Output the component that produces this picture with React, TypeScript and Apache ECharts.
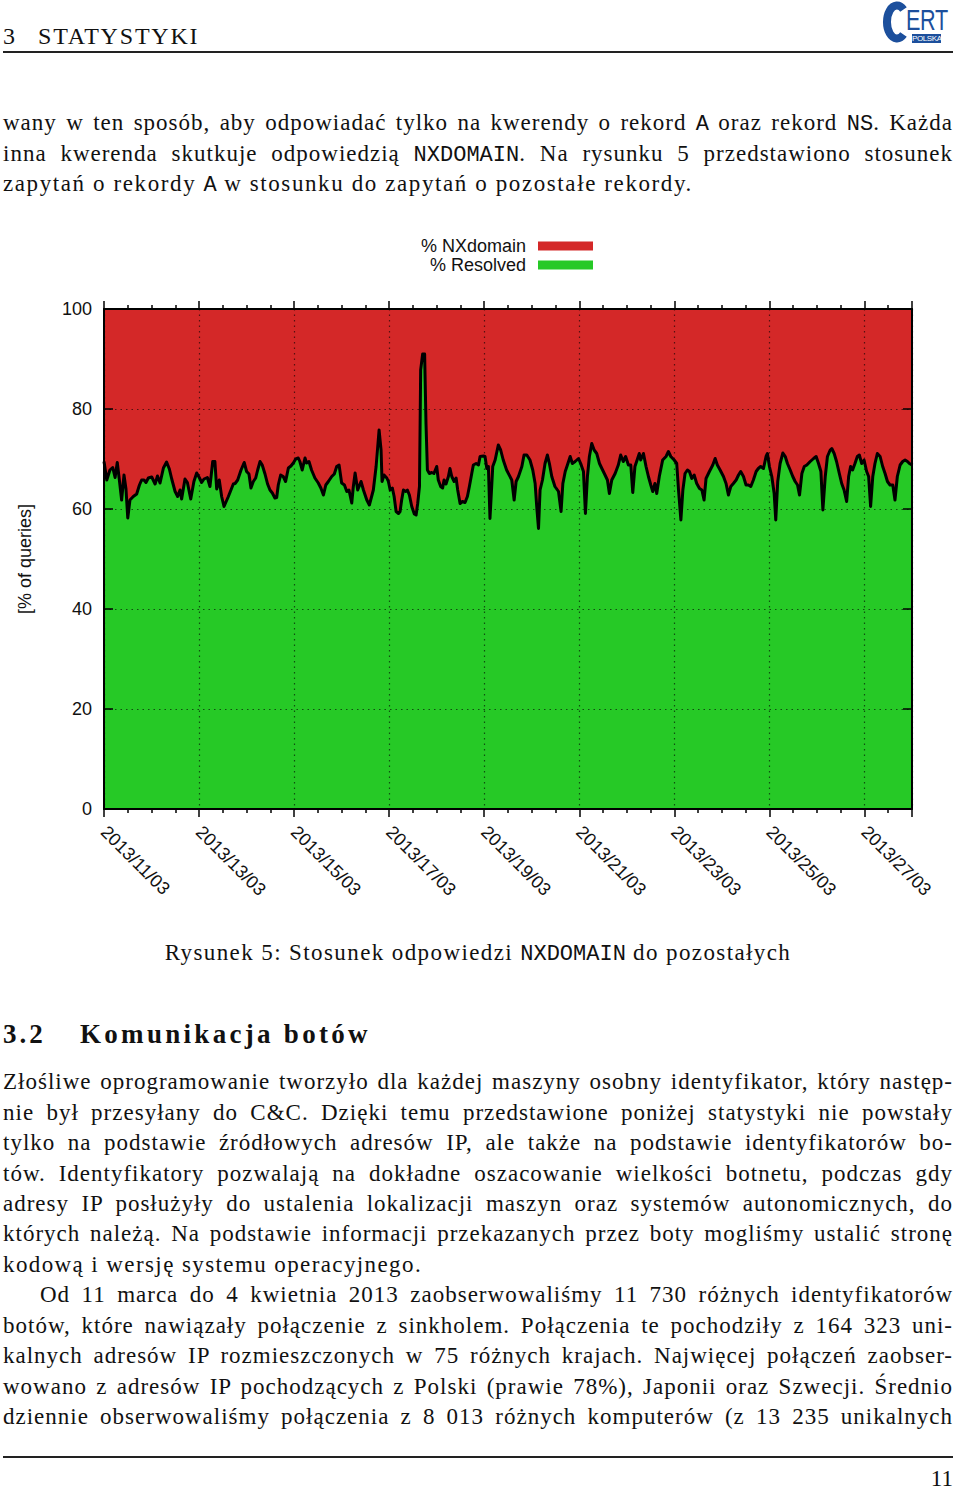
import React, { useEffect, useRef } from "react";
import * as echarts from "echarts";

// ---- data: hours since 2013/11/03 00:00, % of resolved queries (the rest is % NXdomain) ----
const resolvedSamples: [number, number][] = [
  [0, 69.5], [1.4, 65.8], [3, 67.8], [4.4, 68.3], [5.6, 66.3], [6.7, 69.3], [7.7, 66], [8.9, 61.8], [10.1, 66.8], [11.1, 64],
  [12, 58.2], [13.1, 61.8], [14.8, 62.5], [16.5, 63], [17.9, 64.8], [19, 65.8], [20.2, 65.8], [21.2, 65.3], [22.4, 66.2], [24.1, 66.4],
  [25.8, 65], [27, 66.6], [28.3, 65.2], [30, 68.2], [31.6, 69.4], [33, 68], [34.2, 66], [35.9, 63.5], [37.2, 62.5], [38.4, 63.8],
  [39.2, 62], [40.9, 66], [42.1, 65.3], [43.8, 62], [45.4, 65.5], [46.8, 67.2], [48.1, 66.3], [49.3, 65.3], [50.5, 66], [52.2, 66.3],
  [53.5, 64.5], [54.9, 69.5], [56, 69.5], [56.9, 64], [58.2, 65.8], [59.4, 62.5], [60.6, 60.5], [62.8, 62.5], [65.3, 65],
  [66.2, 65.1], [67.5, 65.8], [69.2, 67.8], [70.8, 69.3], [72, 67.5], [73.2, 67], [74.2, 64.2], [75.4, 65.5], [76.6, 66.2], [77.6, 67.8],
  [78.8, 69.5], [79.9, 68.8], [81.3, 67], [82.6, 65], [83.8, 63.8], [85, 63.2], [86.3, 62.2], [87.2, 62.3], [88, 64.8], [89.2, 66.8],
  [90.5, 66.5], [91.7, 65.5], [93.1, 68.2], [94.4, 68.6], [95.6, 69.2], [96.8, 70], [98.1, 70.2], [98.9, 69.5], [100.1, 67.8], [101.5, 70.2],
  [102.3, 69.2], [103.5, 69.5], [104.8, 67.8], [106.5, 66.2], [108.2, 65.2], [109.5, 64.2], [110.8, 62.8], [112, 64.8], [113.3, 65.5], [115, 66.5],
  [116.3, 67], [117.5, 68.5], [118.7, 68.8], [120, 65.2], [121.4, 64.8], [122.6, 63.5], [123.7, 63.8], [125.1, 61.2], [125.9, 64.5], [126.8, 67.2],
  [128.1, 63.8], [129.8, 65.5], [131, 63.8], [132.7, 61.8], [134, 60.8],
  [136, 63.8], [137.4, 68.5], [138.9, 75.8], [139.9, 71.8], [140.4, 65.5], [141.4, 66.8], [142.8, 66.2], [143.6, 65.5], [144.5, 63.8], [145.6, 64.2],
  [146.5, 62.5], [147.5, 59.5], [148.7, 59.1], [149.5, 59.5], [150.3, 61.8], [151.2, 63.8], [152.4, 63.5], [153.2, 63.8], [154.2, 62.8], [155.4, 60.5],
  [156.7, 59], [157.6, 58.8], [158.4, 61.1], [159.3, 64.5], [159.9, 87.8], [160.9, 91], [161.9, 91], [162.6, 77], [163.3, 67.8], [164.3, 67.1],
  [165.5, 67.3], [166.6, 67.1], [168, 68.5], [168.8, 65.8], [170, 64.5], [171, 64.2], [171.7, 65.8], [172.7, 65], [173.9, 66.5], [174.7, 68.1],
  [175.6, 66.5], [176.8, 65.5], [177.8, 66.2], [178.6, 63.8], [179.8, 61.1], [181, 61.5], [182.3, 61.3], [183.5, 62.5], [184.5, 64.5], [185.7, 67.1],
  [186.5, 68.8], [187.9, 69.1], [189.1, 68.8], [189.9, 70.5], [191.6, 70.6], [192.4, 70.5], [193.3, 68.1], [194.1, 68.5], [194.9, 58.1], [196.3, 68.5],
  [197.5, 69.8], [199.1, 72.8], [200.3, 71.8], [201.6, 69.8], [203.3, 67.8],
  [205.9, 65.8], [207.1, 61.8], [208.1, 65.5], [209.3, 66.5], [211, 68.5], [212.1, 70.8], [213.5, 70.8], [215.1, 69.8], [216.5, 67.8], [217.7, 65.1],
  [218.5, 60.5], [219.4, 56.1], [220.2, 63.8], [221.4, 65.8], [222.7, 69.1], [223.9, 70.8], [224.9, 69.1], [226.1, 66.5], [227.7, 64.5], [229.5, 63.5],
  [230.8, 59.5], [231.7, 65.1], [232.9, 67.5], [234, 68.8], [235.4, 70.5], [236.5, 69.1], [237.9, 69.5], [239.6, 70.1], [240.7, 69.1], [242.1, 67.5],
  [243.1, 59.1], [244.1, 66.5], [245.1, 70.5], [246.3, 73.1], [247.5, 71.8], [248.8, 71.1], [250.2, 69.1], [251.4, 68.1], [253, 66.8], [254.2, 65.8],
  [255.2, 63.1], [256.4, 65.8], [258.1, 67.1], [259.7, 68.8], [260.9, 70.8], [262.2, 69.5], [263.4, 70.5], [264.8, 68.8], [266, 68.8], [267, 63.3],
  [268.1, 68.5], [270.3, 71.1],
  [271, 69.8], [272.4, 71.1], [273.7, 68.5], [274.9, 66.5], [276.1, 64.8], [277.1, 63.5], [278.2, 65.1], [279.1, 63.1], [280.4, 66.5], [282.1, 69.8],
  [283.8, 70.5], [285, 71.5], [286.2, 70.5], [287.9, 69.8], [289.2, 69.1], [290.1, 63.8], [291.3, 57.8], [292.3, 63.8], [293.4, 67.1], [294.6, 67.8],
  [295.6, 67.5], [296.8, 66.1], [298, 66.8], [299.3, 65.1], [300.7, 64.1], [301.9, 63.8], [303, 61.8], [304, 66.1], [305.7, 67.5], [307.4, 68.8],
  [308.6, 70.1], [309.7, 68.8], [311.1, 67.8], [312.8, 66.5], [314.1, 65.1], [315.3, 62.8], [316.5, 64.5], [317.8, 65.1], [319.2, 65.8], [320.4, 66.8],
  [321.5, 67.5], [322.9, 66.5], [324.2, 64.8], [325.4, 64.8], [326.6, 64.5], [327.9, 65.8], [329.3, 67.5], [330.4, 68.1], [331.6, 68.5], [333, 68.1],
  [334.3, 70.5], [335, 71.1], [336, 68.5], [337.2, 66.5], [338.4, 63.1], [339.2, 57.8], [340.2, 65.5], [341.4, 69.1], [342.8, 71.2], [344, 70.5],
  [345.1, 69.1], [346.5, 67.8], [347.8, 66.5], [349, 65.5], [350.2, 64.8], [351.2, 62.8], [352.4, 67.1], [353.6, 68.5], [354.9, 68.8], [356.6, 69.5],
  [358.3, 70.1], [359.6, 70.5], [360.8, 69.1], [362, 67.5], [363, 59.8], [364.2, 66.5], [365.3, 70.5], [366.7, 71.8], [367.5, 72.1], [368.7, 71.1],
  [369.9, 69.5], [371.3, 67.1], [372.5, 65.1], [373.7, 63.8], [375, 61.5], [376, 66.5], [377, 68.5], [378, 67.8], [379.2, 69.1], [380.4, 70.5],
  [381.4, 70.8], [382.6, 69.1], [383.8, 69.8], [385.1, 67.5], [386.1, 66.5], [387.1, 60.5], [388.2, 66.5], [389.3, 69.1], [390.5, 71.1], [391.9, 70.5],
  [393.2, 68.5], [394.4, 67.1], [395.6, 65.5], [396.9, 64.8], [398.3, 64.8], [399.4, 61.8], [400.6, 66.5], [402, 68.8], [403.3, 69.5], [404.5, 69.8],
  [405.7, 69.5], [406.7, 69.1], [408, 68.8],
];

const seriesNames = ["% NXdomain", "% Resolved"];
const xRangeHours = [0, 408];
const xLabelStepHours = 48;
const firstDay = 11;
const labelMonthYear = { year: "2013", month: "03" };
const yRange = [0, 100];
const yStep = 20;
const yAxisTitle = "[% of queries]";

const RED = "#d42828";
const GREEN = "#26c926";
const SANS = '"Liberation Sans", Arial, Helvetica, sans-serif';
const SERIF = '"Liberation Serif", "Times New Roman", serif';
const MONO = '"Liberation Mono", "DejaVu Sans Mono", monospace';

// ---- document text ----
const topParagraph = [
  "wany w ten sposób, aby odpowiadać tylko na kwerendy o rekord `A` oraz rekord `NS`. Każda",
  "inna kwerenda skutkuje odpowiedzią `NXDOMAIN`. Na rysunku 5 przedstawiono stosunek",
  "zapytań o rekordy `A` w stosunku do zapytań o pozostałe rekordy.",
];
const captionText = "Rysunek 5: Stosunek odpowiedzi `NXDOMAIN` do pozostałych";
const sectionNumber = "3.2";
const sectionTitle = "Komunikacja botów";
const bodyLines = [
  "Złośliwe oprogramowanie tworzyło dla każdej maszyny osobny identyfikator, który następ-",
  "nie był przesyłany do C&C. Dzięki temu przedstawione poniżej statystyki nie powstały",
  "tylko na podstawie źródłowych adresów IP, ale także na podstawie identyfikatorów bo-",
  "tów. Identyfikatory pozwalają na dokładne oszacowanie wielkości botnetu, podczas gdy",
  "adresy IP posłużyły do ustalenia lokalizacji maszyn oraz systemów autonomicznych, do",
  "których należą. Na podstawie informacji przekazanych przez boty mogliśmy ustalić stronę",
  "kodową i wersję systemu operacyjnego.",
  "Od 11 marca do 4 kwietnia 2013 zaobserwowaliśmy 11 730 różnych identyfikatorów",
  "botów, które nawiązały połączenie z sinkholem. Połączenia te pochodziły z 164 323 uni-",
  "kalnych adresów IP rozmieszczonych w 75 różnych krajach. Najwięcej połączeń zaobser-",
  "wowano z adresów IP pochodzących z Polski (prawie 78%), Japonii oraz Szwecji. Średnio",
  "dziennie obserwowaliśmy połączenia z 8 013 różnych komputerów (z 13 235 unikalnych",
];
const bodyLeftAligned = [6];
const bodyIndented = [7];

const CHART_TOP = 220;

function dateLabel(h: number): string {
  const d = firstDay + Math.round(h / 24);
  return `${labelMonthYear.year}/${String(d).padStart(2, "0")}/${labelMonthYear.month}`;
}

const axisLineStyle = { color: "#000", width: 2 };
const tickLineStyle = { color: "#000", width: 1.5 };
const gridDots = { color: "rgba(0,0,0,0.6)", type: [1.5, 4] as any, width: 1.2 };

const option: any = {
  animation: false,
  legend: {
    orient: "vertical",
    right: 367,
    top: 17,
    padding: 0,
    align: "right",
    itemWidth: 55,
    itemHeight: 9,
    itemGap: 1,
    icon: "rect",
    selectedMode: false,
    textStyle: { fontFamily: SANS, fontSize: 18, color: "#111", lineHeight: 18, padding: [0, 7, 0, 0] },
    data: [
      { name: seriesNames[0], itemStyle: { color: RED, borderWidth: 0 } },
      { name: seriesNames[1], itemStyle: { color: GREEN, borderWidth: 0 } },
    ],
  },
  grid: { left: 104, top: 89, width: 808, height: 500 },
  xAxis: [
    {
      type: "value",
      min: xRangeHours[0],
      max: xRangeHours[1],
      interval: xLabelStepHours,
      position: "bottom",
      z: 6,
      axisLine: { show: true, onZero: false, lineStyle: axisLineStyle },
      axisTick: { show: true, length: 8, lineStyle: tickLineStyle },
      minorTick: { show: true, splitNumber: 4, length: 4, lineStyle: tickLineStyle },
      splitLine: { show: true, lineStyle: gridDots },
      axisLabel: {
        rotate: -45,
        margin: 20,
        fontFamily: SANS,
        fontSize: 18,
        color: "#111",
        showMaxLabel: false,
        formatter: (v: number) => dateLabel(v),
      },
    },
    {
      type: "value",
      min: xRangeHours[0],
      max: xRangeHours[1],
      interval: xLabelStepHours,
      position: "top",
      z: 6,
      axisLine: { show: true, onZero: false, lineStyle: axisLineStyle },
      axisTick: { show: true, length: 8, lineStyle: tickLineStyle },
      minorTick: { show: true, splitNumber: 4, length: 4, lineStyle: tickLineStyle },
      splitLine: { show: false },
      axisLabel: { show: false },
    },
  ],
  yAxis: [
    {
      type: "value",
      min: yRange[0],
      max: yRange[1],
      interval: yStep,
      position: "left",
      z: 6,
      axisLine: { show: true, onZero: false, lineStyle: axisLineStyle },
      axisTick: { show: true, inside: true, length: 9, lineStyle: tickLineStyle },
      splitLine: { show: true, lineStyle: gridDots },
      axisLabel: { margin: 12, fontFamily: SANS, fontSize: 18, color: "#111" },
      name: yAxisTitle,
      nameLocation: "middle",
      nameRotate: 90,
      nameGap: 70,
      nameTextStyle: { fontFamily: SANS, fontSize: 18, color: "#111" },
    },
    {
      type: "value",
      min: yRange[0],
      max: yRange[1],
      interval: yStep,
      position: "right",
      z: 6,
      axisLine: { show: true, onZero: false, lineStyle: axisLineStyle },
      axisTick: { show: true, inside: true, length: 9, lineStyle: tickLineStyle },
      splitLine: { show: false },
      axisLabel: { show: false },
    },
  ],
  series: [
    {
      // % Resolved: area from 0 up to the resolved share
      name: seriesNames[1],
      type: "line",
      data: resolvedSamples,
      symbol: "none",
      z: 3,
      color: GREEN,
      lineStyle: { color: "#000", width: 3, join: "round" },
      areaStyle: { color: GREEN, opacity: 1, origin: "start" },
    },
    {
      // % NXdomain: the remaining share, from the resolved line up to 100 %
      name: seriesNames[0],
      type: "line",
      data: resolvedSamples,
      symbol: "none",
      z: 2,
      color: RED,
      lineStyle: { width: 0, color: RED },
      areaStyle: { color: RED, opacity: 1, origin: "end" },
    },
  ],
};

function Chart() {
  const ref = useRef<HTMLDivElement>(null);
  useEffect(() => {
    const chart = echarts.init(ref.current!, null, { renderer: "svg" });
    chart.setOption(option);
    return () => chart.dispose();
  }, []);
  return <div ref={ref} style={{ position: "absolute", left: 0, top: CHART_TOP, width: 960, height: 700 }} />;
}

function Rich({ text, monoSize }: { text: string; monoSize: number }) {
  const parts = text.split("`");
  return (
    <>
      {parts.map((p, i) =>
        i % 2 ? (
          <span key={i} style={{ fontFamily: MONO, fontSize: monoSize, letterSpacing: 0 }}>{p}</span>
        ) : (
          <React.Fragment key={i}>{p}</React.Fragment>
        )
      )}
    </>
  );
}

function TextLine({
  text, baseline, left = 3, width = 950, align = "justify", size = 23, weight = 400, spacing = 1.0, lineH = 30,
}: { text: string; baseline: number; left?: number; width?: number; align?: any; size?: number; weight?: number; spacing?: number; lineH?: number }) {
  const L = lineH;
  const top = baseline - (L - size * 1.107) / 2 - size * 0.891;
  return (
    <div
      style={{
        position: "absolute", left, width, top, height: L, lineHeight: `${L}px`,
        fontFamily: SERIF, fontSize: size, fontWeight: weight, color: "#111",
        textAlign: align, textAlignLast: align, letterSpacing: spacing, whiteSpace: "nowrap",
      }}
    >
      <Rich text={text} monoSize={size - 1} />
    </div>
  );
}

function Logo() {
  const blue = "#1c4f9c";
  const narrow = '"Liberation Sans Narrow", "Liberation Sans", Arial, sans-serif';
  return (
    <>
      <svg style={{ position: "absolute", left: 879, top: 1 }} width={28} height={42} viewBox="0 0 28 42">
        <path d="M 24.5 8.5 A 10 16.5 0 1 0 24.5 33.5" fill="none" stroke={blue} strokeWidth={8} />
      </svg>
      <div style={{ position: "absolute", left: 906, top: 9.3, height: 22, fontFamily: narrow, fontWeight: 400, fontSize: 30, lineHeight: "22px", color: blue, transform: "scaleX(0.72)", transformOrigin: "left top", letterSpacing: -0.5 }}>ERT</div>
      <div style={{ position: "absolute", left: 912, top: 34, width: 29, height: 9, background: blue, color: "#fff", fontFamily: narrow, fontSize: 8, lineHeight: "9px", textAlign: "center", letterSpacing: -0.4, overflow: "hidden" }}>POLSKA</div>
    </>
  );
}

export default function App() {
  const bodyBase = 1090;
  const lead = 30.45;
  return (
    <div style={{ position: "absolute", left: 0, top: 0, width: 960, height: 1490, background: "#fff", overflow: "hidden" }}>
      {/* header */}
      <TextLine text="3" baseline={44} left={3} width={30} align="left" size={24} spacing={0} />
      <TextLine text="STATYSTYKI" baseline={44} left={38} width={300} align="left" size={24} spacing={1.8} />
      <Logo />
      <div style={{ position: "absolute", left: 3, top: 51, width: 950, height: 1.6, background: "#222" }} />

      {topParagraph.map((t, i) => {
        const last = i === topParagraph.length - 1;
        return <TextLine key={i} text={t} baseline={131 + i * lead} align={last ? "left" : "justify"} spacing={last ? 1.6 : 1.0} />;
      })}

      <Chart />

      <TextLine text={captionText} baseline={961} left={3} width={950} align="center" spacing={1.4} />

      <TextLine text={sectionNumber} baseline={1043} left={3} width={70} align="left" size={27} weight={700} spacing={3} />
      <TextLine text={sectionTitle} baseline={1043} left={80} width={420} align="left" size={27} weight={700} spacing={3.3} />

      {bodyLines.map((t, i) => {
        const leftAl = bodyLeftAligned.includes(i);
        const ind = bodyIndented.includes(i);
        return (
          <TextLine
            key={i}
            text={t}
            baseline={bodyBase + i * lead}
            left={ind ? 40 : 3}
            width={ind ? 913 : 950}
            align={leftAl ? "left" : "justify"}
            spacing={leftAl ? 1.4 : 1.0}
          />
        );
      })}

      <div style={{ position: "absolute", left: 3, top: 1456, width: 950, height: 1.6, background: "#222" }} />
      <TextLine text="11" baseline={1487} left={853} width={100} align="right" size={23} spacing={0} lineH={20} />
    </div>
  );
}
